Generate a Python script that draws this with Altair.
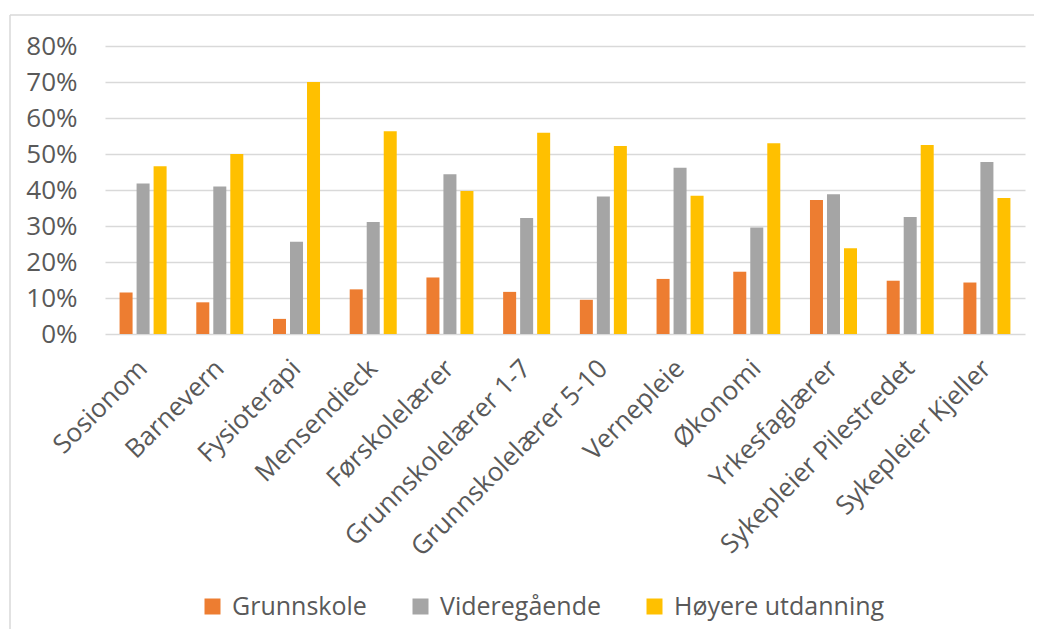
import altair as alt
import pandas as pd

categories = ["Sosionom", "Barnevern", "Fysioterapi", "Mensendieck", "Førskolelærer",
              "Grunnskolelærer 1-7", "Grunnskolelærer 5-10", "Vernepleie", "Økonomi",
              "Yrkesfaglærer", "Sykepleier Pilestredet", "Sykepleier Kjeller"]
series = ["Grunnskole", "Videregående", "Høyere utdanning"]
grunnskole = [11.5, 8.8, 4.2, 12.4, 15.7, 11.7, 9.5, 15.3, 17.3, 37.2, 14.8, 14.3]
videregaende = [41.8, 41.0, 25.6, 31.1, 44.4, 32.2, 38.2, 46.2, 29.6, 38.8, 32.5, 47.8]
hoyere = [46.6, 50.0, 70.0, 56.3, 39.7, 55.9, 52.2, 38.4, 53.0, 23.8, 52.5, 37.8]
colors = ["#ED7D31", "#A5A5A5", "#FFC000"]
y_ticks = [0, 0.1, 0.2, 0.3, 0.4, 0.5, 0.6, 0.7, 0.8]

rows = []
for s, vals in zip(series, [grunnskole, videregaende, hoyere]):
    for c, v in zip(categories, vals):
        rows.append({"Kategori": c, "Serie": s, "Andel": v / 100})
df = pd.DataFrame(rows)

FONT = "Open Sans"
TXT = "#595959"

bars = alt.Chart(df).mark_bar().encode(
    x=alt.X("Kategori:N", sort=categories,
            scale=alt.Scale(paddingInner=0.387, paddingOuter=0.19),
            axis=alt.Axis(title=None, labelAngle=-45, labelAlign="right", labelBaseline="middle",
                          labelPadding=30, domain=False, ticks=False, labelFontSize=26,
                          labelColor=TXT, labelFont=FONT, labelLimit=0)),
    xOffset=alt.XOffset("Serie:N", sort=series, scale=alt.Scale(paddingInner=0.235, paddingOuter=0)),
    y=alt.Y("Andel:Q", scale=alt.Scale(domain=[0, 0.8]),
            axis=alt.Axis(title=None, format=".0%", values=y_ticks, domain=False, ticks=False,
                          labelPadding=28, gridColor="#D9D9D9", gridWidth=1.5,
                          labelFontSize=26, labelColor=TXT, labelFont=FONT)),
    color=alt.Color("Serie:N", sort=series, scale=alt.Scale(domain=series, range=colors),
                    legend=alt.Legend(title=None, orient="none", legendX=95, legendY=548,
                                      direction="horizontal", symbolType="square", symbolSize=256,
                                      labelFontSize=25, labelFont=FONT, labelColor=TXT,
                                      labelLimit=0, columnPadding=41, labelOffset=7,
                                      gridAlign="none", symbolStrokeWidth=0))
)

frame_df = pd.DataFrame({"k": [0]})
left_border = alt.Chart(frame_df).mark_rule(color="#D9D9D9", strokeWidth=1.5).encode(
    x=alt.value(-95), y=alt.value(-31), y2=alt.value(600))
top_border = alt.Chart(frame_df).mark_rule(color="#D9D9D9", strokeWidth=1.5).encode(
    x=alt.value(-95), x2=alt.value(940), y=alt.value(-31))

chart = alt.layer(left_border, top_border, bars).properties(
    width=920, height=288,
    padding={"left": 97, "top": 38, "right": 9, "bottom": 295},
    autosize=alt.AutoSizeParams(type="none"),
).configure_view(stroke=None)

chart.save("out.html", embed_options={"renderer": "svg", "actions": False})
